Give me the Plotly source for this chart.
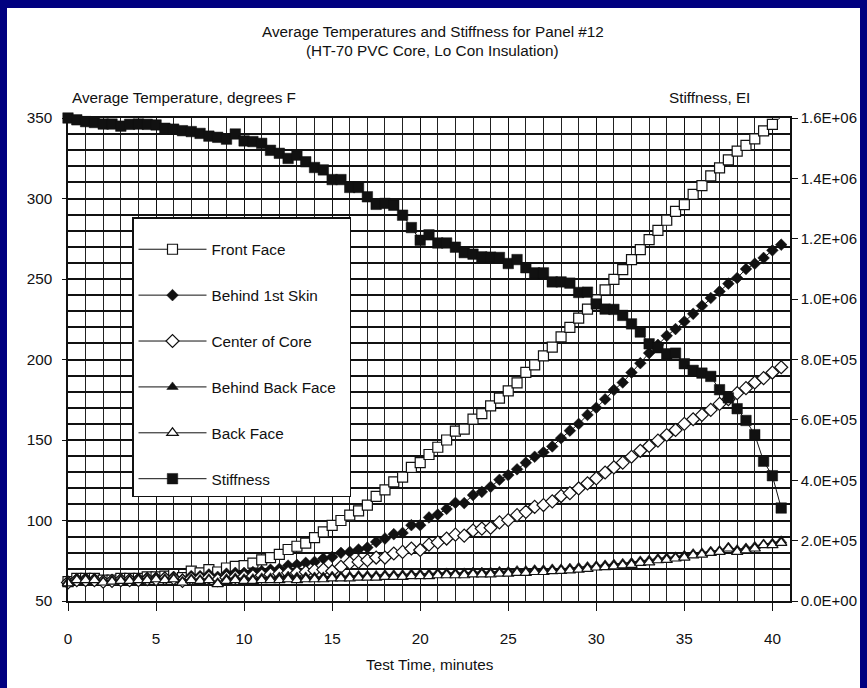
import plotly.graph_objects as go

# ---------------- data ----------------
time_min = [0, 0.5, 1, 1.5, 2, 2.5, 3, 3.5, 4, 4.5, 5, 5.5, 6, 6.5, 7, 7.5, 8, 8.5, 9, 9.5,
            10, 10.5, 11, 11.5, 12, 12.5, 13, 13.5, 14, 14.5, 15, 15.5, 16, 16.5, 17, 17.5,
            18, 18.5, 19, 19.5, 20, 20.5, 21, 21.5, 22, 22.5, 23, 23.5, 24, 24.5, 25, 25.5,
            26, 26.5, 27, 27.5, 28, 28.5, 29, 29.5, 30, 30.5, 31, 31.5, 32, 32.5, 33, 33.5,
            34, 34.5, 35, 35.5, 36, 36.5, 37, 37.5, 38, 38.5, 39, 39.5, 40, 40.5]

front_face = [62, 64, 64, 64, 63, 63, 64, 64, 64, 65, 65, 65.5, 66.5, 64.5, 68.5, 67.5, 69.5, 68, 70.5, 71.5,
              72, 73.5, 75.5, 77, 79, 82, 84, 86, 89.4, 92.9, 97, 100, 103.3, 106, 109.6, 115,
              119, 124, 127, 133, 136, 141, 145.5, 150, 155.5, 156.7, 163, 166.4, 171.2, 176, 180.5, 185.5,
              192, 196.7, 202.3, 207.7, 214, 220, 225.7, 231.3, 237, 243.3, 249.8, 255.8, 262, 268.2, 274.5, 280.2,
              286.5, 292, 296.2, 302.5, 308, 314, 319, 324, 329.4, 333, 337, 342, 346, 350.8]

behind_1st_skin = [62, 63.5, 64, 63.5, 62.5, 63, 63.5, 63.5, 64, 64.5, 64.5, 64.5, 65, 63.5, 65.5, 65.5, 66.5, 65, 67, 67.5,
                   67.5, 68, 68.5, 69.5, 70, 72, 72.5, 73.7, 74.3, 76.4, 77.4, 79.9, 80.5, 82, 83.2, 86.7,
                   88.8, 91.5, 92.3, 97.1, 97.1, 101.9, 103.7, 107.2, 111, 110.8, 115.8, 117.8, 120.9, 125.3, 128.2, 131.8,
                   135.9, 139.6, 142.4, 146, 151.1, 155.8, 160, 165.6, 170, 175.3, 181.1, 185.7, 191.9, 197.7, 204, 209.1,
                   214.7, 218.9, 223.6, 228.4, 233.4, 238.2, 242.3, 247.1, 250.6, 256.2, 259.5, 263.1, 267.8, 271.3]

center_of_core = [61.5, 63, 63, 63, 62, 62.5, 63, 63, 63, 63.5, 63.5, 64, 64, 62.5, 64, 64, 64.5, 63, 64.5, 65,
                  65, 65.5, 66, 66.5, 67, 67.5, 67.5, 68, 69, 69.5, 68.5, 71.2, 73.7, 74.3, 75.3, 77,
                  77, 79.5, 80.5, 82.6, 81.7, 85, 86.4, 88.8, 91.2, 90.6, 93.8, 95, 95.5, 98.8, 100.2, 103.3,
                  105.4, 108.5, 109.6, 111.9, 115.2, 117, 119.9, 123.1, 126.2, 129.8, 133, 135.9, 139.6, 143.3, 146.3, 149.6,
                  153.1, 156.2, 160, 162.9, 165.6, 168.7, 172.4, 175.3, 179.1, 182.2, 185.7, 188.4, 191.9, 195.2]

behind_back_face = [62, 64, 64, 64, 62.5, 63, 63.5, 63.5, 64, 64, 64.5, 64, 64.5, 62.5, 64, 63.5, 64, 61.5, 64, 64.5,
                    64, 64, 64.5, 64.5, 65, 65.5, 65, 65, 65, 65, 65.5, 65.5, 65.5, 66, 66, 66,
                    66.5, 66.5, 66.5, 67, 67, 67, 67.5, 67.5, 67.5, 67.5, 68, 68, 68, 68.5, 68.5, 69,
                    69, 69.5, 69.5, 70, 70, 70.5, 71, 71.5, 72, 72.5, 73, 73.5, 74, 75, 75.5, 76.5,
                    77, 77.5, 78.5, 79.5, 80, 81, 81.5, 83.5, 82, 83, 84, 85.5, 86, 87.5]

back_face = [61, 63, 63, 63, 61.5, 62, 62.5, 62.5, 63, 63, 63.5, 63, 63.5, 61.5, 63, 62.5, 63, 60.5, 62.5, 63,
             62.5, 62.5, 63, 63, 63, 63.5, 63, 63.5, 63.5, 63.5, 64, 64, 64, 64.5, 64.5, 64.5,
             65, 65, 65, 65.5, 65.5, 65.5, 66, 66, 66, 66, 66.5, 66.5, 66.5, 67, 67, 67.5,
             67.5, 68, 68, 68.5, 68.7, 69, 69.5, 70, 70.8, 71, 71.5, 72.2, 72.5, 73.7, 74, 75.3,
             75.5, 76.4, 77, 78.4, 78.8, 79.9, 80.5, 82.6, 80.5, 81.5, 82.6, 84.7, 84.7, 86.1]

stiffness = [1.600e6, 1.594e6, 1.588e6, 1.585e6, 1.580e6, 1.580e6, 1.573e6, 1.579e6, 1.580e6, 1.579e6,
             1.577e6, 1.566e6, 1.563e6, 1.558e6, 1.555e6, 1.549e6, 1.540e6, 1.536e6, 1.530e6, 1.547e6,
             1.524e6, 1.522e6, 1.516e6, 1.493e6, 1.483e6, 1.466e6, 1.477e6, 1.455e6, 1.436e6, 1.428e6,
             1.396e6, 1.396e6, 1.370e6, 1.370e6, 1.339e6, 1.314e6, 1.317e6, 1.311e6, 1.278e6, 1.237e6,
             1.195e6, 1.213e6, 1.186e6, 1.186e6, 1.172e6, 1.154e6, 1.149e6, 1.140e6, 1.139e6, 1.138e6,
             1.118e6, 1.131e6, 1.104e6, 1.087e6, 1.087e6, 1.057e6, 1.057e6, 1.053e6, 1.022e6, 1.023e6,
             0.984e6, 0.967e6, 0.966e6, 0.946e6, 0.918e6, 0.891e6, 0.852e6, 0.839e6, 0.819e6, 0.821e6,
             0.786e6, 0.764e6, 0.755e6, 0.744e6, 0.700e6, 0.673e6, 0.637e6, 0.598e6, 0.551e6, 0.463e6,
             0.415e6, 0.308e6]

x_tick_vals = [0, 5, 10, 15, 20, 25, 30, 35, 40]
y_tick_vals = [50, 100, 150, 200, 250, 300, 350]
y2_tick_vals = [0, 2e5, 4e5, 6e5, 8e5, 1.0e6, 1.2e6, 1.4e6, 1.6e6]
y2_tick_text = ["0.0E+00", "2.0E+05", "4.0E+05", "6.0E+05", "8.0E+05",
                "1.0E+06", "1.2E+06", "1.4E+06", "1.6E+06"]

title_line1 = "Average Temperatures and Stiffness for Panel #12"
title_line2 = "(HT-70 PVC Core, Lo Con Insulation)"
y_title = "Average Temperature, degrees F"
y2_title = "Stiffness, EI"
x_title = "Test Time, minutes"

# ---------------- styling ----------------
FONT = "Liberation Sans, Arial, Helvetica, sans-serif"
FS = 15.3
NAVY = "#000080"
INK = "#111111"

fig = go.Figure()

series = [
    ("Front Face", front_face, dict(symbol="square", size=10, color="white", line=dict(color=INK, width=1.2))),
    ("Behind 1st Skin", behind_1st_skin, dict(symbol="diamond", size=9, color=INK, line=dict(color=INK, width=0.5))),
    ("Center of Core", center_of_core, dict(symbol="diamond", size=10, color="white", line=dict(color=INK, width=1.2))),
    ("Behind Back Face\u00a0\u00a0", behind_back_face, dict(symbol="triangle-up", size=10, color=INK, line=dict(color=INK, width=0.5))),
    ("Back Face", back_face, dict(symbol="triangle-up", size=10, color="white", line=dict(color=INK, width=1.2))),
]
for i, (name, vals, mk) in enumerate(series):
    fig.add_trace(go.Scatter(
        x=time_min, y=vals, name=name, mode="lines+markers",
        line=dict(color=INK, width=1), marker=mk, legendgroup=f"g{i}",
        cliponaxis=False,
    ))

fig.add_trace(go.Scatter(
    x=time_min, y=stiffness, name="Stiffness", mode="lines+markers", yaxis="y2",
    line=dict(color=INK, width=1),
    marker=dict(symbol="square", size=10.5, color=INK, line=dict(color=INK, width=0.5)),
    legendgroup="g5", cliponaxis=False,
))

L, R, T, B = 68, 77, 118, 87
W, H = 867, 688
pw, ph = W - L - R, H - T - B


def px_x(px):
    return (px - L) / pw


def px_y(py):
    return (H - B - py) / ph


fig.update_layout(
    width=W, height=H,
    margin=dict(l=L, r=R, t=T, b=B, pad=0, autoexpand=False),
    paper_bgcolor=NAVY,
    plot_bgcolor="white",
    font=dict(family=FONT, size=FS, color=INK),
    showlegend=True,
    legend=dict(
        x=px_x(132), y=px_y(217), xanchor="left", yanchor="top",
        bgcolor="white", bordercolor=INK, borderwidth=1.5,
        font=dict(family=FONT, size=FS, color=INK),
        tracegroupgap=23, itemwidth=68,
        title=dict(text="\u00a0", font=dict(size=11)),
    ),
    xaxis=dict(
        range=[0, 41], tickvals=x_tick_vals, ticks="outside", ticklen=8, tickwidth=1,
        tickcolor=INK, showline=True, linecolor=INK, linewidth=1.5, mirror=True,
        showgrid=True, gridcolor=INK, gridwidth=1, zeroline=False, automargin=False,
        minor=dict(dtick=1, tick0=0, showgrid=True, gridcolor="#222222", gridwidth=1),
        tickfont=dict(family=FONT, size=FS, color=INK), ticklabelstandoff=15,
    ),
    yaxis=dict(
        range=[50, 350], tickvals=y_tick_vals, ticks="outside", ticklen=4, tickwidth=1,
        tickcolor=INK, showline=True, linecolor=INK, linewidth=1.5, mirror=False,
        showgrid=True, gridcolor=INK, gridwidth=1.6, zeroline=False, automargin=False,
        minor=dict(dtick=10, tick0=50, showgrid=True, gridcolor=INK, gridwidth=1.6),
        tickfont=dict(family=FONT, size=FS, color=INK), ticklabelstandoff=7,
    ),
    yaxis2=dict(
        range=[0, 1.6e6], overlaying="y", side="right", tickvals=y2_tick_vals,
        ticktext=y2_tick_text, ticks="outside", ticklen=6, tickwidth=1, tickcolor=INK,
        showline=True, linecolor=INK, linewidth=1.5, showgrid=False, zeroline=False,
        automargin=False,
        tickfont=dict(family=FONT, size=15, color=INK), ticklabelstandoff=0,
    ),
    shapes=[dict(
        type="rect", xref="paper", yref="paper", layer="below",
        x0=px_x(7), x1=px_x(860), y0=px_y(690), y1=px_y(8),
        fillcolor="white", line=dict(width=0),
    )],
    annotations=[
        dict(text=title_line1, xref="paper", yref="paper", x=px_x(433), y=px_y(31),
             xanchor="center", yanchor="middle", showarrow=False),
        dict(text=title_line2, xref="paper", yref="paper", x=px_x(433), y=px_y(51),
             xanchor="center", yanchor="middle", showarrow=False),
        dict(text=y_title, xref="paper", yref="paper", x=px_x(70), y=px_y(97),
             xanchor="left", yanchor="middle", showarrow=False),
        dict(text=y2_title, xref="paper", yref="paper", x=px_x(752), y=px_y(97),
             xanchor="right", yanchor="middle", showarrow=False),
        dict(text=x_title, xref="paper", yref="paper", x=px_x(430), y=px_y(664),
             xanchor="center", yanchor="middle", showarrow=False),
    ],
)

fig.write_html("out.html")
